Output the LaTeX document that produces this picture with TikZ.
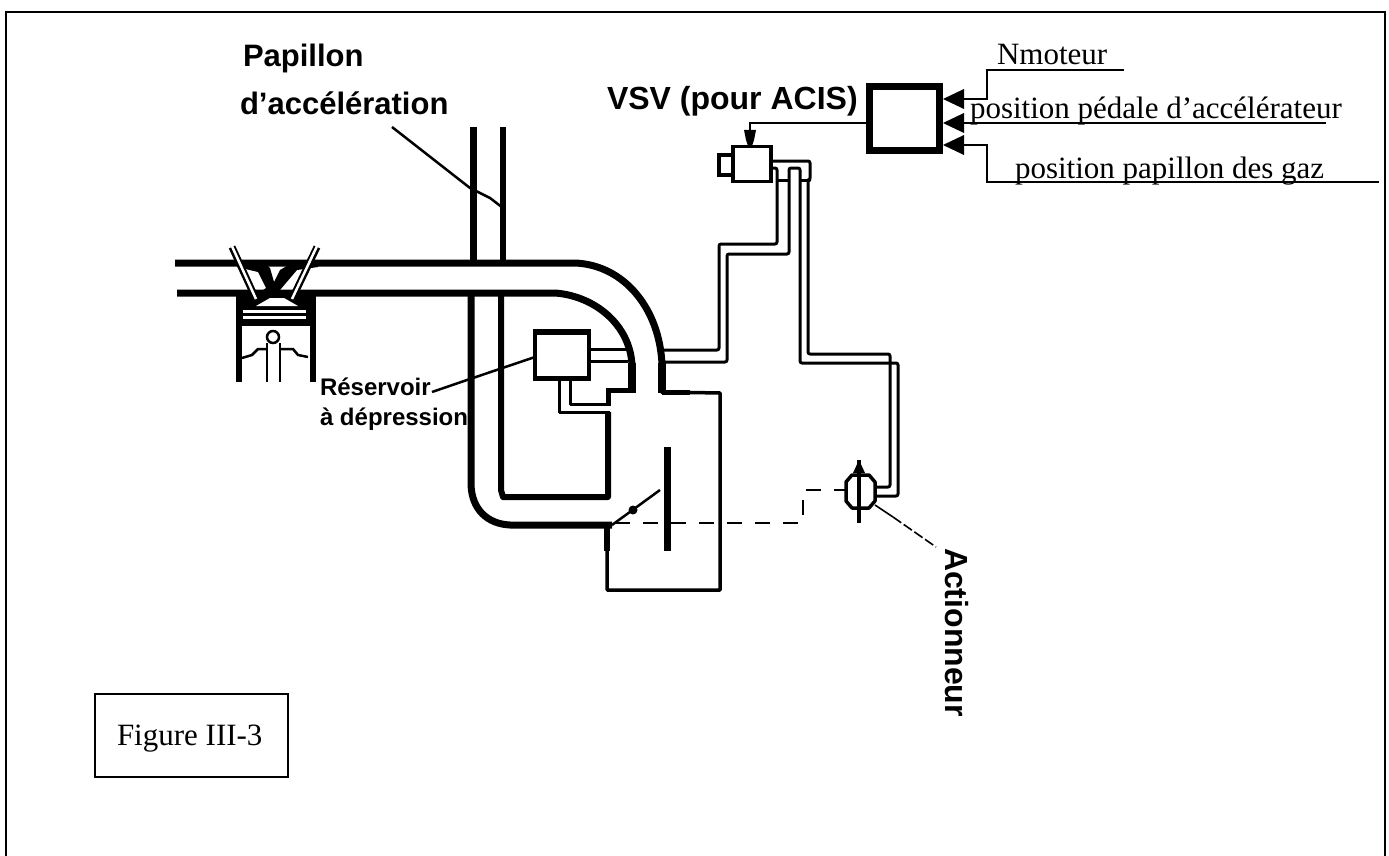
\documentclass[tikz,border=0pt]{standalone}
\usepackage{fontspec}
\setmainfont{Liberation Serif}
\newfontfamily\lsans{Liberation Sans}
\tikzset{
  x=1pt,y=-1pt,
  every node/.style={inner sep=0pt,outer sep=0pt},
  thin wall/.style={line width=3pt,line join=round},
  tube/.style={line width=3pt,line join=round,rounded corners=2pt},
  leader/.style={line width=1.6pt},
  serif label/.style={anchor=base west,font=\fontsize{31}{36}\selectfont},
  sans big/.style={anchor=base west,font=\lsans\bfseries\fontsize{31}{38}\selectfont},
  sans vsv/.style={anchor=base west,font=\lsans\bfseries\fontsize{32}{38}\selectfont},
  sans small/.style={anchor=base west,font=\lsans\bfseries\fontsize{24}{28}\selectfont},
  tri/.style={fill=black,draw=none},
}
\begin{document}
\begin{tikzpicture}
\useasboundingbox (0,0) rectangle (1389,856);
% outer frame (no bottom edge visible)
\draw[line width=1.8pt] (6,856) -- (6,12) -- (1385,12) -- (1385,856);
% Figure label
\node[draw,line width=1.8pt,minimum width=193pt,minimum height=83pt] (figbox) at (191.5,735.5) {};
\node[serif label] (figlabel) at (117,745) {Figure III-3};
% labels
\node[sans big] (papillon) at (243,67) {Papillon};
\node[sans big] (accel) at (240,115) {d’accélération};
\node[sans vsv] (vsv) at (607,110) {VSV (pour ACIS)};
\node[sans small] (reserv) at (320,395) {Réservoir};
\node[sans small] (depress) at (320,425) {à dépression};
\node[sans vsv,rotate=-90] (actionneur) at (945,548) {Actionneur};
\node[serif label] (nmot) at (997,65) {Nmoteur};
\node[serif label] (pedale) at (970,119) {position pédale d’accélérateur};
\node[serif label] (papgaz) at (1015,178) {position papillon des gaz};
% ECU
\node[draw,line width=7pt,minimum width=70pt,minimum height=64pt] (ecu) at (904.5,118.5) {};
% signal lines
\coordinate (inA) at (964,99);
\coordinate (inB) at (964,123);
\coordinate (inC) at (964,145);
\coordinate (endA) at (1124,70);
\coordinate (endB) at (1326,123);
\coordinate (endC) at (1379,182);
\draw[line width=2pt] (inA) -- (987,99) -- (987,70) -- (endA);
\draw[line width=2pt] (inB) -- (endB);
\draw[line width=2pt] (inC) -- (987,145) -- (987,182) -- (endC);
\fill[tri] (943,99) -- (964,89) -- (964,109) -- cycle;
\fill[tri] (943,123) -- (964,113) -- (964,133) -- cycle;
\fill[tri] (943,145) -- (964,135) -- (964,155) -- cycle;
% VSV valve
\node[draw,line width=3.5pt,minimum width=38pt,minimum height=35pt] (valve) at (752,164) {};
\draw[line width=4.5pt] (732,155) -- (719,155) -- (719,175) -- (732,175);
% ECU to valve
\draw[line width=2.5pt] (ecu.west|-0,123) -- (750,123) -- (750,134);
\fill (744,130) -- (756,130) -- (754,140) -- (752,146) -- (748,146) -- (746,140) -- cycle;
% vertical throttle pipe
\draw[line width=7pt] (473,127) -- (473,262);
\draw[line width=6pt] (503,127) -- (503,262);
% horizontal pipe with bend
\draw[line width=7pt,line join=round] (175,263) -- (575,263)
   .. controls (625,265) and (660,310) .. (662,365);
\draw[line width=8pt] (662,363) -- (662,393);
\draw[line width=7pt] (177,293) -- (555,293)
   .. controls (595,296) and (630,325) .. (632,365);
\draw[line width=8pt] (632,363) -- (632,393);
% lower loop
\draw[line width=7pt,line join=round] (471,293) -- (471,485)
   .. controls (472,510) and (488,524) .. (510,525) -- (612,525);
\draw[line width=6pt,line join=round] (501,293) -- (501,490) -- (503,497) -- (608,497) -- (608,412);
% chamber box
\draw[line width=3.5pt,line join=round] (661,392) -- (720,393) -- (720,590) -- (607,590) -- (607,525);
\draw[line width=5pt] (662,392) -- (690,392);
\draw[line width=6pt] (607,525) -- (607,551);
% reservoir
\node[draw,line width=4pt,minimum width=54pt,minimum height=46pt] (reservoir) at (562,355) {};
\draw[line width=6pt] (533,332) -- (591,332);
\draw[line width=5pt] (533,378) -- (591,378);
\draw[line width=3pt] (reservoir.east|-0,349) -- (628,349);
\draw[line width=3pt] (reservoir.east|-0,361) -- (628,361);
\draw[thin wall] (559,380) -- (559,412) -- (610,412);
\draw[thin wall] (570,380) -- (570,404) -- (610,404);
\draw[line width=5pt,line join=miter] (608,406) -- (608,390) -- (633,390);
% flap
\draw[line width=7pt] (667,447) -- (667,551);
\draw[line width=2.5pt] (612,525) -- (660,490);
\fill (633,510) circle (4.5);
% dashed linkage
\coordinate (linkStart) at (615,523);
\draw[line width=2pt,dash pattern=on 15pt off 13pt] (linkStart) -- (803,523) -- (803,490) -- (845,490);
% tubes
\draw[tube] (664,350) -- (719,350) -- (719,244) -- (777,244) -- (777,168) -- (772,168);
\draw[tube] (664,362) -- (727,362) -- (727,254) -- (789,254) -- (789,168) -- (800,168) -- (800,363) -- (898,363) -- (898,496) -- (875,496);
\draw[tube] (772,161) -- (810,161) -- (810,180) -- (808,180) -- (808,354) -- (890,354) -- (890,487) -- (875,487);
\draw[line width=3pt] (777,180) -- (789,180);
\draw[line width=3pt] (800,180) -- (810,180);
% actuator
\draw[line width=3.5pt,line join=round] (852,475) -- (869,475) -- (875,482) -- (875,501) -- (869,508) -- (852,508) -- (846,501) -- (846,482) -- cycle;
\draw[line width=4pt] (859,460) -- (859,523);
\fill (853,473) -- (859,460) -- (865,473) -- cycle;
% leaders
\draw[leader,line width=2.5pt] (392,127) -- (470,188) -- (490,198) -- (503,208);
\draw[leader,line width=2.5pt] (432,392) -- (467,380) -- (535,357);
\draw[leader] (875,505) -- (893,517);
\draw[leader,dash pattern=on 10pt off 3pt] (893,517) -- (936,547);
% piston and cylinder
\draw[line width=6pt] (239,293) -- (239,382);
\draw[line width=6pt] (313,293) -- (313,382);
\fill (239,296) rectangle (313,326);
\fill[white] (256,306) -- (270,298) -- (284,298) -- (298,306) -- cycle;
\fill[white] (243,310) rectangle (306,313);
\fill[white] (243,316) rectangle (306,319);
\draw[line width=2.5pt] (273,337) circle (6);
\draw[line width=2pt] (267,343) -- (267,382);
\draw[line width=2pt] (280,343) -- (280,382);
\draw[line width=2.5pt] (242,358) -- (252,355) -- (258,349) -- (267,349);
\draw[line width=2.5pt] (280,349) -- (293,349) -- (298,355) -- (308,357);
% valves seat wedges
\fill[white] (225,267) rectangle (320,289);
\fill (237,260) -- (262,261) -- (270,268) -- (274,282) -- (280,270) -- (292,263) -- (318,260) -- (318,267) -- (297,270) -- (280,290) -- (294,296) -- (254,296) -- (266,288) -- (258,272) -- (237,267) -- cycle;
\draw[line width=7pt] (232,247) -- (255,297);
\draw[line width=7pt] (317,247) -- (293,297);
\draw[line width=2.5pt,white] (231,244) -- (256,299);
\draw[line width=2.5pt,white] (318,244) -- (292,299);
\end{tikzpicture}
\end{document}
